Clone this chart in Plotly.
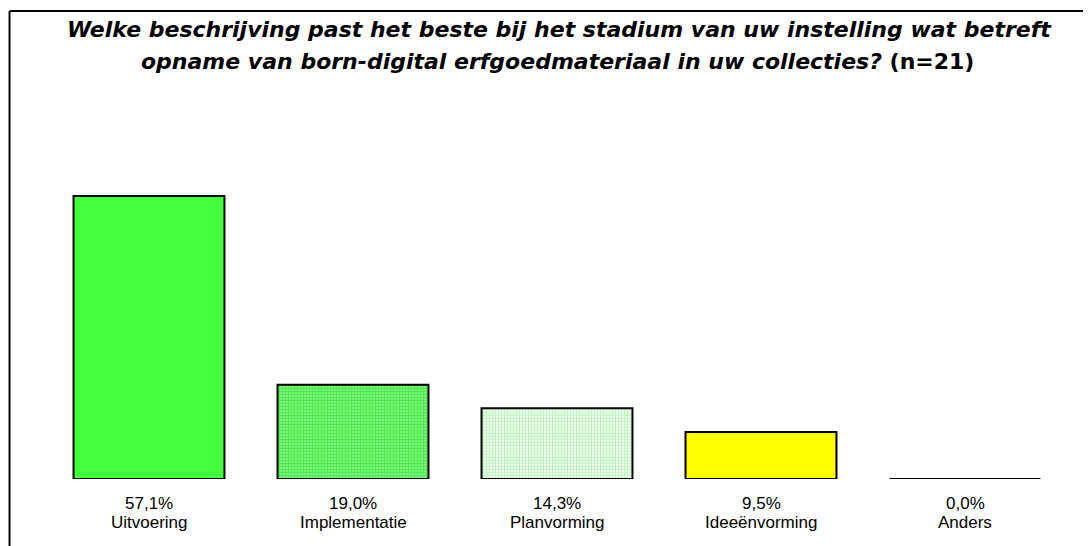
import plotly.graph_objects as go

categories = ["Uitvoering", "Implementatie", "Planvorming", "Ideeënvorming", "Anders"]
values = [57.1, 19.0, 14.3, 9.5, 0.0]
value_labels = ["57,1%", "19,0%", "14,3%", "9,5%", "0,0%"]
fill_colors = ["#44ff3c", "#8cfc8c", "#ffffff", "#ffff00", "#ffffff"]
pattern_fg = ["#44ff3c", "#48e448", "#aaf6aa", "#ffff00", "#ffffff"]
pattern_shape = ["", ".", ".", "", ""]
pattern_solidity = [0.5, 0.6, 0.45, 0.5, 0.5]

title_line1 = "<b><i>Welke beschrijving past het beste bij het stadium van uw instelling wat betreft</i></b>"
title_line2 = "<b><i>opname van born-digital erfgoedmateriaal in uw collecties?</i> (n=21)</b>"

W, H = 1091, 546
OFF = 8  # page body offset
L, R, T, B = 46.5 - OFF, W - (1067.5 - OFF), 150 - OFF, H - (479 - OFF)
pw, ph = W - L - R, H - T - B
bar_width = 0.74


def px(x):
    return (x - OFF - L) / pw


def py(y):
    return (H - B - (y - OFF)) / ph


fig = go.Figure()
for i, (c, v) in enumerate(zip(categories, values)):
    if v == 0:
        continue
    fig.add_trace(go.Bar(
        x=[i], y=[v], width=bar_width, name=c,
        marker=dict(
            color=fill_colors[i],
            line=dict(color="black", width=2),
            pattern=dict(shape=pattern_shape[i], fgcolor=pattern_fg[i],
                         bgcolor=fill_colors[i], size=3,
                         solidity=pattern_solidity[i], fillmode="replace"),
        ),
        hoverinfo="skip",
    ))

# zero-value bar drawn as its outline (a line at the value)
for i, v in enumerate(values):
    if v == 0:
        fig.add_shape(type="line", xref="x", yref="y",
                      x0=i - bar_width / 2, x1=i + bar_width / 2, y0=v, y1=v,
                      line=dict(color="black", width=2))

# labels under the bars
for i, (vl, c) in enumerate(zip(value_labels, categories)):
    fig.add_annotation(xref="x", yref="paper", x=i, y=py(503.5), text=vl, showarrow=False,
                       xanchor="center", yanchor="middle",
                       font=dict(family="Liberation Sans, Arial", size=17, color="black"))
    fig.add_annotation(xref="x", yref="paper", x=i, y=py(522), text=c, showarrow=False,
                       xanchor="center", yanchor="middle",
                       font=dict(family="Liberation Sans, Arial", size=17, color="black"))

# outer frame (top and left edges visible)
fx0, fy0 = px(9), py(11)
fig.add_shape(type="line", xref="paper", yref="paper", x0=fx0, x1=px(W + 20),
              y0=fy0, y1=fy0, line=dict(color="black", width=2))
fig.add_shape(type="line", xref="paper", yref="paper", x0=fx0, x1=fx0,
              y0=fy0, y1=py(H + 20), line=dict(color="black", width=2))

title_font = dict(family="DejaVu Sans", size=22, color="black")
fig.add_annotation(xref="paper", yref="paper", x=px(560), y=py(30), text=title_line1,
                   showarrow=False, xanchor="center", yanchor="middle", font=title_font)
fig.add_annotation(xref="paper", yref="paper", x=px(557), y=py(61.5), text=title_line2,
                   showarrow=False, xanchor="center", yanchor="middle", font=title_font)

fig.update_layout(
    width=W, height=H,
    margin=dict(l=L, r=R, t=T, b=B),
    paper_bgcolor="white", plot_bgcolor="white",
    showlegend=False,
    barmode="overlay",
    xaxis=dict(
        tickmode="array", tickvals=list(range(len(categories))),
        range=[-0.5, len(categories) - 0.5],
        showgrid=False, zeroline=False, showline=False, showticklabels=False,
        fixedrange=True,
    ),
    yaxis=dict(range=[0, 57.1 * ph / 283], visible=False, fixedrange=True),
)

fig.write_html("out.html")
